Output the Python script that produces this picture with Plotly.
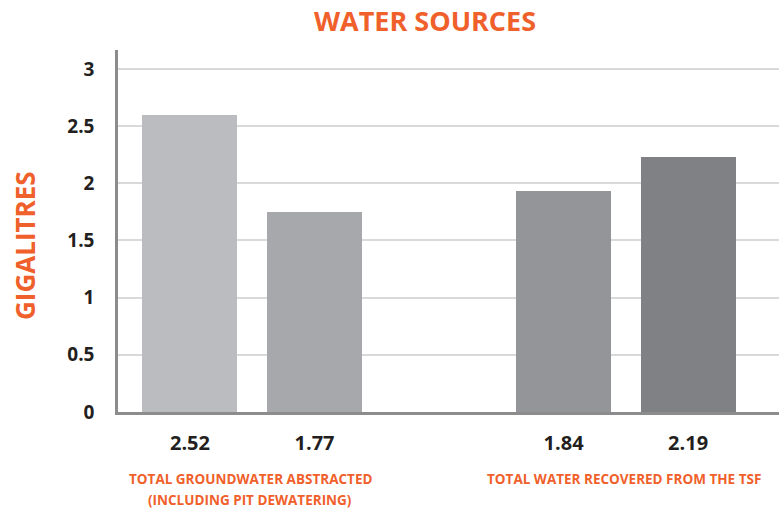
import plotly.graph_objects as go

# Data
bar_positions = [0, 1, 3, 4]
bar_heights = [2.6, 1.75, 1.93, 2.23]
value_labels = ["2.52", "1.77", "1.84", "2.19"]
bar_colors = ["#BBBCC0", "#A7A8AC", "#949599", "#808185"]
group_positions = [0.5, 3.5]
group_lines = [["TOTAL GROUNDWATER ABSTRACTED", "(INCLUDING PIT DEWATERING)"],
               ["TOTAL WATER RECOVERED FROM THE TSF"]]
y_ticks = [0, 0.5, 1, 1.5, 2, 2.5, 3]
y_ticktext = ["0", "0.5", "1", "1.5", "2", "2.5", "3"]

ORANGE = "#F0602B"
DARK = "#231F20"
FONT = "Open Sans"
W, H = 779, 508
ML, MR, MT, MB = 118, 0, 50, 96
PW, PH = W - ML - MR, H - MT - MB
PB = H - MB  # plot bottom in pixels


def py(px):
    return (PB - px) / PH


def pxx(px):
    return (px - ML) / PW


fig = go.Figure()
fig.add_trace(go.Bar(
    x=bar_positions, y=bar_heights, width=0.763,
    marker=dict(color=bar_colors, line=dict(width=0)),
    hoverinfo="skip", showlegend=False,
))

for xp, lines in zip(group_positions, group_lines):
    for i, ln in enumerate(lines):
        fig.add_annotation(
            x=xp, xref="x", y=py(479 + 20.5 * i), yref="paper",
            yanchor="middle", text=ln, showarrow=False,
            font=dict(family=FONT, size=13.5, color=ORANGE, weight="bold"),
            xshift=-2,
        )

fig.add_annotation(
    x=pxx(25), xref="paper", y=py(246), yref="paper",
    xanchor="center", yanchor="middle", text="GIGALITRES", textangle=-90,
    showarrow=False,
    font=dict(family=FONT, size=26, color=ORANGE, weight="bold"),
)

fig.update_layout(
    width=W, height=H,
    margin=dict(l=ML, r=MR, t=MT, b=MB),
    paper_bgcolor="white", plot_bgcolor="white",
    title=dict(text="<b>WATER SOURCES</b>", x=425/W, xanchor="center",
               y=1 - 21.5/H, yanchor="middle",
               font=dict(family=FONT, size=27, color=ORANGE)),
    bargap=0,
    xaxis=dict(
        range=[-0.578, 4.73], tickvals=bar_positions, ticktext=value_labels,
        showgrid=False, zeroline=False, showline=True, linecolor="#8C8C8C",
        linewidth=2.5, ticks="", ticklabelstandoff=11,
        tickfont=dict(family=FONT, size=20, color=DARK, weight="bold"),
    ),
    yaxis=dict(
        range=[0, 3.165], tickvals=y_ticks, ticktext=y_ticktext,
        showgrid=True, gridcolor="#D9D9D9", gridwidth=2,
        zeroline=False, showline=True, linecolor="#8C8C8C", linewidth=2.5,
        ticks="", ticklabelstandoff=17,
        tickfont=dict(family=FONT, size=19, color=DARK, weight="bold"),
    ),
)

fig.write_html("out.html")
